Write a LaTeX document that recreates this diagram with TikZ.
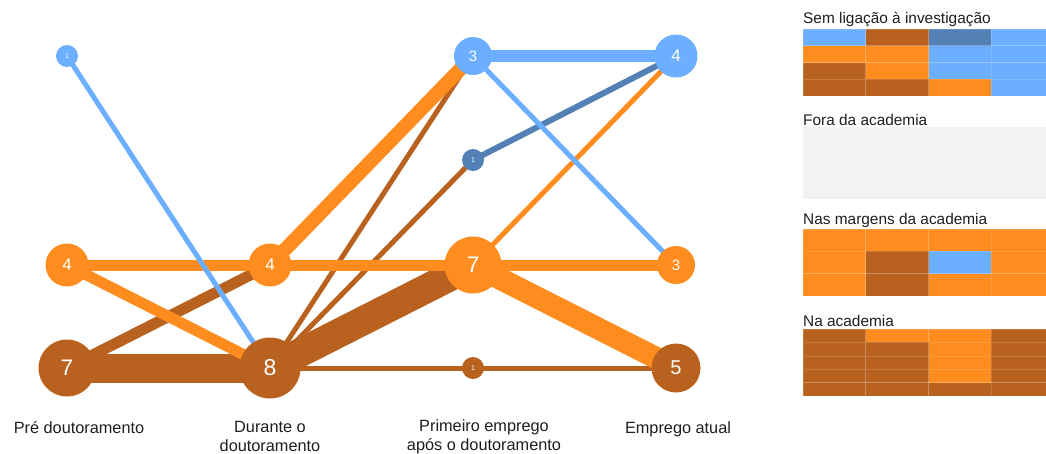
\documentclass[tikz,border=0pt]{standalone}
\usepackage{fontspec}
\setmainfont{Liberation Sans}
\usetikzlibrary{backgrounds}
\definecolor{lb}{RGB}{108,174,255}
\definecolor{org}{RGB}{254,140,30}
\definecolor{brn}{RGB}{185,98,31}
\definecolor{dbl}{RGB}{83,129,182}
\definecolor{panelgrey}{RGB}{242,242,242}
\definecolor{txt}{RGB}{30,30,30}
\tikzset{
  stat/.style={circle, inner sep=0pt, text=white, minimum size=#1},
  n1/.style={stat=22pt, font=\fontsize{7}{7}\selectfont},
  n3/.style={stat=38pt, font=\fontsize{15}{15}\selectfont},
  n4/.style={stat=43pt, font=\fontsize{17}{17}\selectfont},
  n5/.style={stat=49pt, font=\fontsize{20}{20}\selectfont},
  n7/.style={stat=57pt, font=\fontsize{22.5}{22.5}\selectfont},
  n8/.style={stat=61pt, font=\fontsize{23}{23}\selectfont},
  flow/.style={line width=#1, line cap=butt},
  axislabel/.style={font=\fontsize{16.3}{19}\selectfont, text=txt, inner sep=0pt, align=center, anchor=base},
  paneltitle/.style={font=\fontsize{15.4}{15.4}\selectfont, text=txt, inner sep=0pt, anchor=base west},
  cell/.style={fill=#1, draw=white, draw opacity=0.15, line width=0.6pt}
}
\begin{document}
\begin{tikzpicture}[x=1pt,y=-1pt]
\useasboundingbox (0,0) rectangle (1046,453);

% nodes
\node[n1, fill=lb]  (A1) at (67,56) {1};
\node[n4, fill=org] (A4) at (67,265) {4};
\node[n7, fill=brn] (A7) at (67,368) {7};
\node[n4, fill=org] (B4) at (270,265) {4};
\node[n8, fill=brn] (B8) at (270,368) {8};
\node[n3, fill=lb]  (C3) at (473,56) {3};
\node[n1, fill=dbl] (C1d) at (473,160) {1};
\node[n7, fill=org] (C7) at (473,265) {7};
\node[n1, fill=brn] (C1b) at (473,368) {1};
\node[n4, fill=lb]  (D4) at (676,56) {4};
\node[n3, fill=org] (D3) at (676,265) {3};
\node[n5, fill=brn] (D5) at (676,368) {5};

\begin{scope}[on background layer]
  % brown flows
  \draw[brn, flow=11pt] (A7.center) -- (B4.center);
  \draw[brn, flow=29pt] (A7.center) -- (B8.center);
  \draw[brn, flow=5pt] (B8.center) -- (C3.center);
  \draw[brn, flow=5pt] (B8.center) -- (C1d.center);
  \draw[brn, flow=29pt] (B8.center) -- (C7.center);
  \draw[brn, flow=5pt] (B8.center) -- (C1b.center);
  \draw[brn, flow=5pt] (C1b.center) -- (D5.center);
  % orange flows
  \draw[org, flow=11pt] (A4.center) -- (B4.center);
  \draw[org, flow=11pt] (A4.center) -- (B8.center);
  \draw[org, flow=14pt] (B4.center) -- (C3.center);
  \draw[org, flow=11pt] (B4.center) -- (C7.center);
  \draw[org, flow=5pt] (C7.center) -- (D4.center);
  \draw[org, flow=11pt] (C7.center) -- (D3.center);
  \draw[org, flow=22pt] (C7.center) -- (D5.center);
  % dark blue
  \draw[dbl, flow=6pt] (C1d.center) -- (D4.center);
  % light blue
  \draw[lb, flow=5pt] (A1.center) -- (B8.center);
  \draw[lb, flow=12pt] (C3.center) -- (D4.center);
  \draw[lb, flow=5pt] (C3.center) -- (D3.center);
\end{scope}

% axis labels (base anchor = baseline of the last line)
\node[axislabel] (L1) at (79,433) {Pré doutoramento};
\node[axislabel] (L2) at (270,451.5) {Durante o\\doutoramento};
\node[axislabel] (L3) at (484,450.5) {Primeiro emprego\\após o doutoramento};
\node[axislabel] (L4) at (678,433) {Emprego atual};

% panels
\node[paneltitle] (P1) at (803,23.5) {Sem ligação à investigação};
\foreach \row [count=\r from 0] in {{lb,brn,dbl,lb},{org,org,lb,lb},{brn,org,lb,lb},{brn,brn,org,lb}} {
  \foreach \c [count=\k from 0] in \row {
    \path[cell=\c] ({803+\k*62.75},{29+\r*16.75}) rectangle ++(62.75,16.75);
  }
}

\node[paneltitle] (P2) at (803,125) {Fora da academia};
\fill[panelgrey] (803,127) rectangle (1046,199);

\node[paneltitle] (P3) at (803,224.5) {Nas margens da academia};
\foreach \row [count=\r from 0] in {{org,org,org,org},{org,brn,lb,org},{org,brn,org,org}} {
  \foreach \c [count=\k from 0] in \row {
    \path[cell=\c] ({803+\k*62.75},{229+\r*22.33}) rectangle ++(62.75,22.33);
  }
}

\node[paneltitle] (P4) at (803,326) {Na academia};
\foreach \row [count=\r from 0] in {{brn,org,org,brn},{brn,brn,org,brn},{brn,brn,org,brn},{brn,brn,org,brn},{brn,brn,brn,brn}} {
  \foreach \c [count=\k from 0] in \row {
    \path[cell=\c] ({803+\k*62.75},{329+\r*13.4}) rectangle ++(62.75,13.4);
  }
}
\end{tikzpicture}
\end{document}
